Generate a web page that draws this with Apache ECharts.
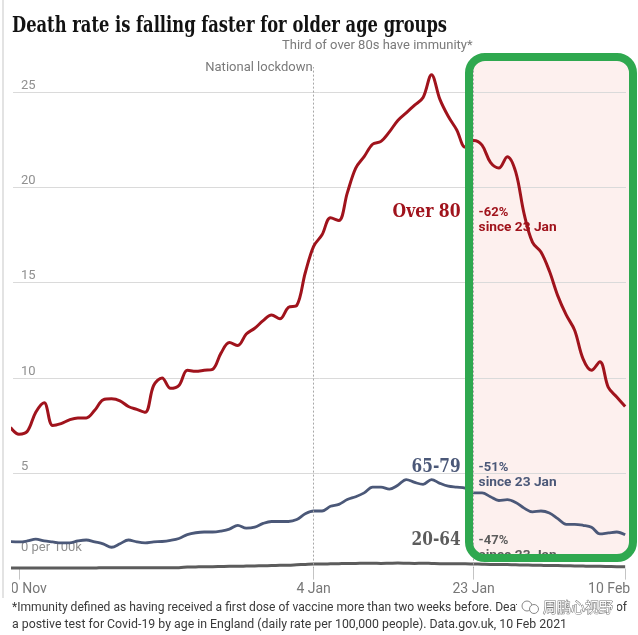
<!DOCTYPE html>
<html><head><meta charset="utf-8">
<script src="https://cdn.jsdelivr.net/npm/echarts@6/dist/echarts.min.js"></script>
<style>html,body{margin:0;padding:0;background:#fff}#c{width:638px;height:635px}</style>
</head><body><div id="c"></div>
<script>
// Daily death rate per 100,000, from 29 Nov 2020 (day -1) to 10 Feb 2021 (day 72)
const firstDay = -1; // 29 Nov relative to 30 Nov
const over80 = [7.4, 7.05, 7.2, 8.2, 8.7, 7.5, 7.6, 7.8, 7.9, 7.9,
  8.3, 8.85, 8.9, 8.8, 8.5, 8.35, 8.2, 9.6, 10.0, 9.45,
  9.6, 10.4, 10.35, 10.4, 10.45, 11.3, 11.85, 11.7, 12.3, 12.6,
  13.0, 13.3, 13.1, 13.7, 13.8, 15.5, 16.9, 17.5, 18.4, 18.25,
  19.7, 21.0, 21.6, 22.25, 22.4, 22.9, 23.5, 23.9, 24.3, 24.7,
  25.9, 24.6, 23.7, 23.0, 22.1, 22.45, 22.2, 21.3, 21.0, 21.6,
  20.8, 18.6, 17.1, 16.6, 15.6, 14.3, 13.3, 12.5, 11.0, 10.4,
  10.85, 9.5, 9.0, 8.5];
const age65to79 = [1.42, 1.4, 1.45, 1.55, 1.45, 1.4, 1.35, 1.35, 1.45, 1.5,
  1.4, 1.3, 1.12, 1.3, 1.5, 1.4, 1.35, 1.4, 1.42, 1.48,
  1.58, 1.78, 1.88, 1.92, 1.92, 1.97, 2.07, 2.27, 2.12, 2.17,
  2.37, 2.47, 2.47, 2.47, 2.57, 2.87, 3.02, 3.02, 3.27, 3.37,
  3.62, 3.77, 3.97, 4.27, 4.27, 4.17, 4.37, 4.67, 4.52, 4.42,
  4.67, 4.47, 4.32, 4.27, 4.22, 3.97, 3.97, 3.77, 3.57, 3.62,
  3.47, 3.17, 2.97, 3.02, 2.92, 2.62, 2.32, 2.32, 2.27, 2.17,
  1.82, 1.87, 1.92, 1.77];
const age20to64 = [0.03, 0.03, 0.03, 0.03, 0.03, 0.03, 0.03, 0.03, 0.03, 0.03,
  0.03, 0.05, 0.05, 0.05, 0.05, 0.05, 0.05, 0.05, 0.05, 0.05,
  0.05, 0.08, 0.09, 0.1, 0.1, 0.11, 0.12, 0.12, 0.13, 0.14,
  0.15, 0.16, 0.17, 0.18, 0.2, 0.22, 0.24, 0.24, 0.25, 0.26,
  0.27, 0.27, 0.28, 0.28, 0.27, 0.28, 0.29, 0.28, 0.27, 0.28,
  0.27, 0.26, 0.26, 0.25, 0.25, 0.24, 0.23, 0.22, 0.22, 0.21,
  0.2, 0.19, 0.18, 0.17, 0.16, 0.16, 0.15, 0.14, 0.13, 0.12,
  0.12, 0.11, 0.1, 0.1];
const tickDays = [0, 35, 54, 72];
const tickLabels = ['30 Nov', '4 Jan', '23 Jan', '10 Feb'];
const yTicks = [5, 10, 15, 20, 25];
const lockdownDay = 35, immunityDay = 54;

const RED = '#a0131c', SLATE = '#4b5878', GREY = '#5c5c5c';
const SANS = 'Roboto', SERIF = 'DejaVu Serif';

function pairs(arr) { return arr.map((v, i) => [firstDay + i, v]); }
const mctx = document.createElement('canvas').getContext('2d');
function fitScale(text, weight, size, family, target) {
  mctx.font = weight + ' ' + size + 'px "' + family + '"';
  return target / mctx.measureText(text).width;
}

const chart = echarts.init(document.getElementById('c'));
chart.setOption({
  animation: false,
  backgroundColor: '#fff',
  grid: { left: 13, right: 12, top: 67, bottom: 66.4, containLabel: false },
  xAxis: {
    type: 'value', min: -0.7, max: 72.1,
    splitLine: { show: false }, axisLine: { show: false },
    axisTick: { show: true, customValues: tickDays, length: 11, lineStyle: { color: '#c4c4c4' } },
    axisLabel: {
      customValues: tickDays, margin: 14, color: '#777', fontSize: 14, fontFamily: SANS,
      alignMinLabel: 'center', alignMaxLabel: 'center',
      formatter: function (v) {
        const i = tickDays.indexOf(v);
        if (i === 0) return '{first|' + tickLabels[0] + '}';
        if (i === tickDays.length - 1) return '{last|' + tickLabels[i] + '}';
        return i >= 0 ? tickLabels[i] : '';
      },
      rich: {
        first: { padding: [0, 0, 0, 12], fontSize: 14, color: '#777', fontFamily: SANS },
        last: { padding: [0, 32, 0, 0], fontSize: 14, color: '#777', fontFamily: SANS }
      }
    }
  },
  yAxis: {
    type: 'value', min: 0, max: 26.3, interval: 5,
    splitLine: { show: false }, axisLine: { show: false }, axisTick: { show: false },
    axisLabel: {
      inside: true, margin: 8, verticalAlign: 'bottom', color: '#909090', fontSize: 13, fontFamily: SANS,
      formatter: function (v) {
        if (v === 0) return '{z|0 per 100k}';
        return (v % 5 === 0) ? String(v) : '';
      },
      rich: { z: { padding: [0, 0, 14, 0], color: '#909090', fontSize: 13, fontFamily: SANS } }
    }
  },
  series: [
    {
      type: 'line', name: '20-64', data: pairs(age20to64), smooth: 0.35, symbol: 'none', z: 3,
      lineStyle: { color: GREY, width: 3 },
      markLine: {
        silent: true, symbol: 'none', label: { show: false },
        data: yTicks.map(v => ({ yAxis: v, lineStyle: { color: '#dadada', width: 1, type: 'solid' } }))
          .concat([
            { xAxis: lockdownDay, lineStyle: { color: '#a8a8a8', width: 1, type: [2, 2] } },
            { xAxis: immunityDay, lineStyle: { color: '#a8a8a8', width: 1, type: [2, 2] } }
          ])
      }
    },
    {
      type: 'line', name: '65-79', data: pairs(age65to79), smooth: 0.35, symbol: 'none', z: 4,
      lineStyle: { color: SLATE, width: 2.8 }
    },
    {
      type: 'line', name: 'Over 80', data: pairs(over80), smooth: 0.35, symbol: 'none', z: 5,
      lineStyle: { color: RED, width: 3 }
    }
  ]
});

const xLock = chart.convertToPixel({ xAxisIndex: 0 }, lockdownDay);
const xImm = chart.convertToPixel({ xAxisIndex: 0 }, immunityDay);

function txt(text, x, y, o) {
  const size = o.size || 13, weight = o.weight || 'normal', family = o.family || SANS;
  const el = {
    type: 'text', x: x, y: y, z: o.z || 10,
    style: {
      text: text, fill: o.fill || '#333', fontSize: size, fontWeight: weight, fontFamily: family,
      align: o.align || 'left', verticalAlign: 'middle',
      stroke: o.stroke, lineWidth: o.lineWidth || 0
    }
  };
  if (o.width) el.scaleX = fitScale(text, weight, size, family, o.width);
  if (o.scaleX) el.scaleX = o.scaleX;
  return el;
}

const foot1 = '*Immunity defined as having received a first dose of vaccine more than two weeks before. Deaths within 28 days of';
const foot2 = 'a postive test for Covid-19 by age in England (daily rate per 100,000 people). Data.gov.uk, 10 Feb 2021';

const labelL = xImm - 13, labelR = xImm + 5;
const graphics = [
  { type: 'rect', z: 0, shape: { x: 469, y: 57, width: 164, height: 501, r: 16 }, style: { fill: '#fdf0ee' } },
  { type: 'line', z: 60, shape: { x1: 3, y1: 0, x2: 3, y2: 598 }, style: { stroke: '#e3e3e3', lineWidth: 2 } },
  { type: 'rect', z: 55, shape: { x: 4, y: 578, width: 8, height: 22 }, style: { fill: '#fff' } },
  txt('Death rate is falling faster for older age groups', 12, 26, { size: 22, weight: 'bold', family: SERIF, fill: '#121212', width: 435 }),
  txt('Third of over 80s have immunity*', xImm - 1, 46, { size: 13, fill: '#7a7a7a', align: 'right' }),
  txt('National lockdown', xLock - 1, 68, { size: 13, fill: '#7a7a7a', align: 'right' }),
  txt('Over 80', labelL, 212, { size: 19, weight: 'bold', family: SERIF, fill: RED, align: 'right', width: 68 }),
  txt('-62%', labelR, 213, { size: 13, weight: 'bold', fill: RED }),
  txt('since 23 Jan', labelR, 228, { size: 13, weight: 'bold', fill: RED, width: 78 }),
  txt('65-79', labelL, 467, { size: 19, weight: 'bold', family: SERIF, fill: SLATE, align: 'right', width: 49 }),
  txt('-51%', labelR, 468, { size: 13, weight: 'bold', fill: SLATE }),
  txt('since 23 Jan', labelR, 483, { size: 13, weight: 'bold', fill: SLATE, width: 78 }),
  txt('20-64', labelL, 540, { size: 19, weight: 'bold', family: SERIF, fill: GREY, align: 'right', width: 49 }),
  txt('-47%', labelR, 541, { size: 13, weight: 'bold', fill: GREY }),
  txt('since 23 Jan', labelR, 556, { size: 13, weight: 'bold', fill: GREY, width: 78 }),
  txt(foot1, 12, 608, { size: 12.5, fill: '#3a3a3a', width: 615 }),
  txt(foot2, 12, 625, { size: 12.5, fill: '#3a3a3a', width: 555 }),
  { type: 'rect', z: 70, shape: { x: 517, y: 599, width: 100, height: 17 }, style: { fill: '#fff' } },
  { type: 'circle', z: 71, shape: { cx: 527, cy: 606, r: 5 }, style: { fill: 'none', stroke: '#888', lineWidth: 1 } },
  { type: 'circle', z: 71, shape: { cx: 534, cy: 609, r: 4.5 }, style: { fill: '#fff', stroke: '#888', lineWidth: 1 } },
  txt('周鹏心视野', 543, 607, { size: 14, fill: '#fff', stroke: '#777', lineWidth: 1, family: 'Noto Sans CJK SC', z: 72 }),
  { type: 'rect', z: 100, shape: { x: 469, y: 57, width: 164, height: 501, r: 16 }, style: { fill: 'none', stroke: '#2fa84f', lineWidth: 8 } }
];
chart.setOption({ graphic: graphics });
</script>
</body></html>
